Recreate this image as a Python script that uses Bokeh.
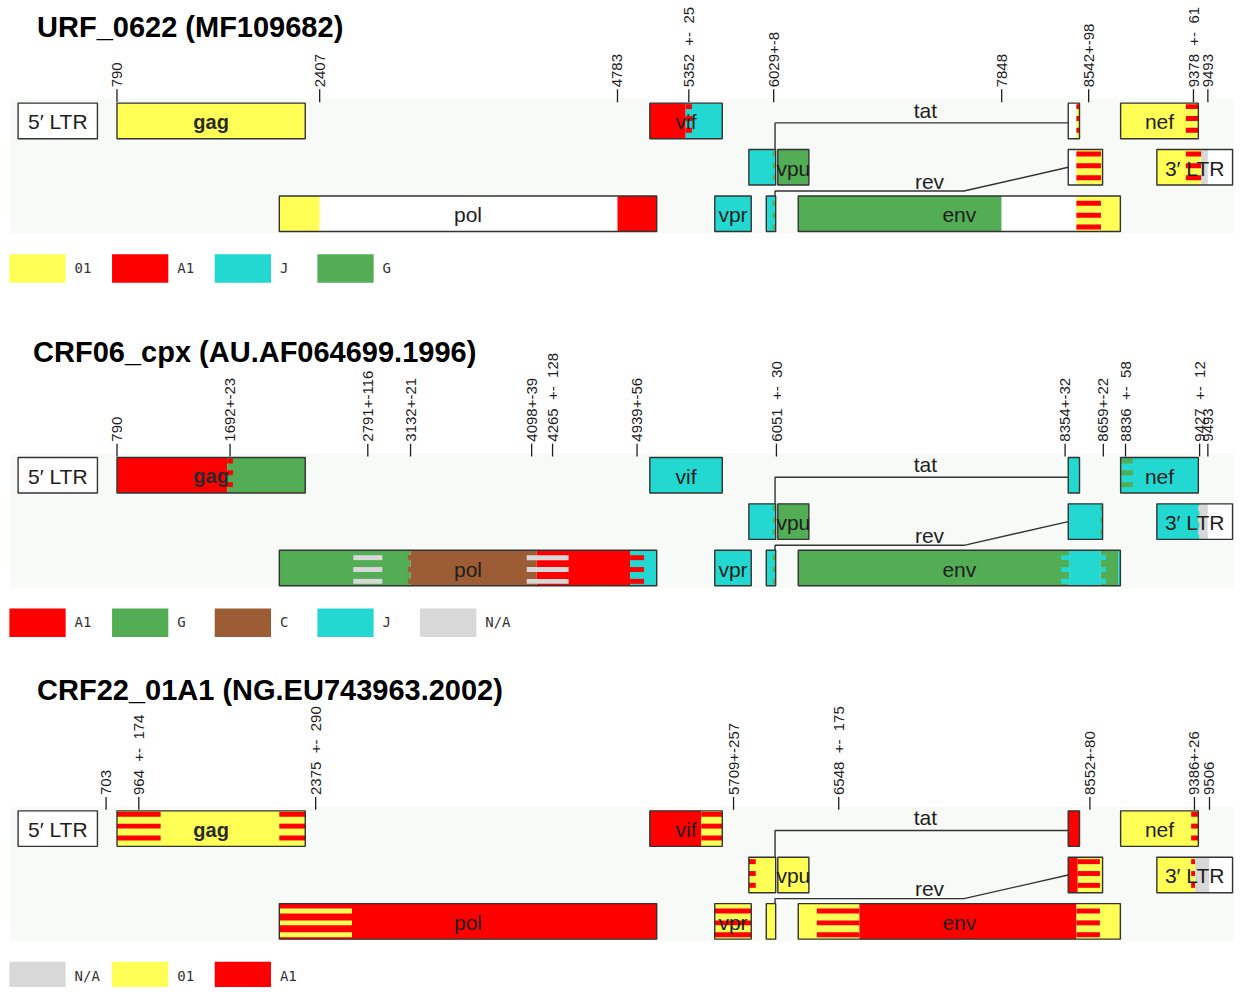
import math
from bokeh.plotting import figure
from bokeh.models import Range1d
from bokeh.embed import file_html
from bokeh.resources import INLINE
from bokeh.core.properties import value

# ---------------- data ----------------
PALETTE = {"01": "#ffff55", "A1": "#ff0000", "J": "#22d8d0", "G": "#52ad55",
           "C": "#9c5c34", "N/A": "#d8d8d8", "-": "#ffffff"}

gene_names = ["5LTR", "gag", "pol", "vif", "vpr", "tat1", "rev1", "vpu", "env", "tat2", "rev2", "nef", "3LTR"]
gene_start = [1, 790, 2085, 5041, 5559, 5831, 5970, 6062, 6225, 8379, 8379, 8797, 9086]
gene_end = [634, 2292, 5096, 5619, 5850, 6045, 6045, 6310, 8795, 8469, 8653, 9417, 9690]
gene_row = [0, 0, 2, 0, 2, 1, 2, 1, 2, 0, 1, 0, 1]
gene_label = ["5\u2032 LTR", "gag", "pol", "vif", "vpr", "", "", "vpu", "env", "", "", "nef", "3\u2032 LTR"]

titles = ["URF_0622 (MF109682)", "CRF06_cpx (AU.AF064699.1996)", "CRF22_01A1 (NG.EU743963.2002)"]

SP = "\u00a0\u00a0"   # wide gap as printed in the labels
p1_tick_pos = [790, 2407, 4783, 5352, 6029, 7848, 8542, 9378, 9493]
p1_tick_lab = ["790", "2407", "4783", "5352" + SP + "+-" + SP + "25", "6029+-8", "7848", "8542+-98",
               "9378" + SP + "+-" + SP + "61", "9493"]
p1_legend = ["01", "A1", "J", "G"]
p1_segments = [
    ("5LTR", 1, 634, "-"),
    ("gag", 790, 2292, "01"),
    ("pol", 2085, 2407, "01"), ("pol", 2407, 4783, "-"), ("pol", 4783, 5096, "A1"),
    ("vif", 5041, 5327, "A1"), ("vif", 5327, 5619, "J"),
    ("vpr", 5559, 5850, "J"),
    ("tat1", 5831, 6045, "J"),
    ("rev1", 5970, 6045, "J"),
    ("vpu", 6062, 6310, "G"),
    ("env", 6225, 7848, "G"), ("env", 7848, 8444, "-"), ("env", 8444, 8795, "01"),
    ("tat2", 8379, 8444, "-"), ("tat2", 8444, 8469, "01"),
    ("rev2", 8379, 8444, "-"), ("rev2", 8444, 8653, "01"),
    ("nef", 8797, 9417, "01"),
    ("3LTR", 9086, 9439, "01"), ("3LTR", 9439, 9493, "N/A"), ("3LTR", 9493, 9690, "-"),
]
p1_stripes = [
    ("vif", 5327, 5377, "A1"), ("tat1", 6021, 6045, "G"), ("rev1", 6021, 6045, "G"),
    ("env", 8444, 8640, "A1"), ("tat2", 8444, 8469, "A1"), ("rev2", 8444, 8640, "A1"),
    ("nef", 9317, 9417, "A1"), ("3LTR", 9317, 9439, "A1"),
]

p2_tick_pos = [790, 1692, 2791, 3132, 4098, 4265, 4939, 6051, 8354, 8659, 8836, 9427, 9493]
p2_tick_lab = ["790", "1692+-23", "2791+-116", "3132+-21", "4098+-39", "4265" + SP + "+-" + SP + "128",
               "4939+-56", "6051" + SP + "+-" + SP + "30", "8354+-32", "8659+-22",
               "8836" + SP + "+-" + SP + "58", "9427" + SP + "+-" + SP + "12", "9493"]
p2_legend = ["A1", "G", "C", "J", "N/A"]
p2_segments = [
    ("5LTR", 1, 634, "-"),
    ("gag", 790, 1669, "A1"), ("gag", 1669, 2292, "G"),
    ("pol", 2085, 3132, "G"), ("pol", 3132, 4137, "C"), ("pol", 4137, 4883, "A1"), ("pol", 4883, 5096, "J"),
    ("vif", 5041, 5619, "J"),
    ("vpr", 5559, 5850, "J"),
    ("tat1", 5831, 6045, "J"),
    ("rev1", 5970, 6045, "J"),
    ("vpu", 6062, 6310, "G"),
    ("env", 6225, 8386, "G"), ("env", 8386, 8637, "J"), ("env", 8637, 8778, "G"), ("env", 8778, 8795, "J"),
    ("tat2", 8379, 8469, "J"),
    ("rev2", 8379, 8653, "J"),
    ("nef", 8797, 9417, "J"),
    ("3LTR", 9086, 9427, "J"), ("3LTR", 9427, 9493, "N/A"), ("3LTR", 9493, 9690, "-"),
]
p2_stripes = [
    ("gag", 1669, 1715, "A1"),
    ("pol", 2675, 2907, "N/A"), ("pol", 3111, 3153, "C"), ("pol", 4059, 4393, "N/A"), ("pol", 4883, 4995, "A1"),
    ("tat1", 6021, 6045, "G"), ("rev1", 6021, 6045, "G"),
    ("env", 8322, 8386, "J"), ("env", 8637, 8681, "J"),
    ("rev2", 8637, 8653, "G"),
    ("nef", 8797, 8894, "G"),
    ("3LTR", 9415, 9439, "N/A"),
]

p3_tick_pos = [703, 964, 2375, 5709, 6548, 8552, 9386, 9506]
p3_tick_lab = ["703", "964" + SP + "+-" + SP + "174", "2375" + SP + "+-" + SP + "290", "5709+-257",
               "6548" + SP + "+-" + SP + "175", "8552+-80", "9386+-26", "9506"]
p3_legend = ["N/A", "01", "A1"]
p3_segments = [
    ("5LTR", 1, 634, "-"),
    ("gag", 790, 2292, "01"),
    ("pol", 2085, 5096, "A1"),
    ("vif", 5041, 5452, "A1"), ("vif", 5452, 5619, "01"),
    ("vpr", 5559, 5850, "01"),
    ("tat1", 5831, 6045, "01"),
    ("rev1", 5970, 6045, "01"),
    ("vpu", 6062, 6310, "01"),
    ("env", 6225, 6713, "01"), ("env", 6713, 8445, "A1"), ("env", 8445, 8795, "01"),
    ("tat2", 8379, 8469, "A1"),
    ("rev2", 8379, 8455, "A1"), ("rev2", 8455, 8653, "01"),
    ("nef", 8797, 9417, "01"),
    ("3LTR", 9086, 9390, "01"), ("3LTR", 9390, 9506, "N/A"), ("3LTR", 9506, 9690, "-"),
]
p3_stripes = [
    ("gag", 790, 1138, "A1"), ("gag", 2085, 2292, "A1"),
    ("pol", 2085, 2665, "01"),
    ("vif", 5452, 5619, "A1"),
    ("vpr", 5559, 5850, "A1"),
    ("tat1", 5831, 5886, "A1"),
    ("env", 6373, 6713, "A1"), ("env", 8445, 8632, "A1"),
    ("rev2", 8455, 8632, "A1"),
    ("nef", 9360, 9417, "A1"),
    ("3LTR", 9360, 9390, "A1"),
]

# ---------------- layout ----------------
VX0, VX1, VY0, VY1 = 0, 1250, 0, 1000          # visible window of the reference, in its pixels
PX0, POS0, SCALE = 118.0, 790.0, 0.12697       # pixel of position 790, px per base
ROW_TOPS = [104, 463, 821]
TITLE_Y = [27, 356, 699]
TITLE_X = [37, 33, 37]
LEGEND_Y = [257, 616, 974]
ROW_OFF = [0, 47, 94]
ROW_H = 36
STRIPE_PHASE = [1, 2, 5]
OUTLINE = "#333333"
TXT = "#1e1e1e"
SANS = value("Liberation Sans")
MONO = value("DejaVu Sans Mono")

p = figure(width=1234, height=987,
           x_range=Range1d(POS0 + (VX0 - PX0) / SCALE, POS0 + (VX1 - PX0) / SCALE),
           y_range=Range1d(VY1, VY0),
           output_backend="svg", toolbar_location=None,
           x_axis_location=None, y_axis_location=None, min_border=0)
p.extra_x_ranges = {"px": Range1d(VX0, VX1)}
p.grid.visible = False
p.outline_line_color = None
p.background_fill_color = "white"

gidx = {n: i for i, n in enumerate(gene_names)}

panels = [
    (p1_tick_pos, p1_tick_lab, p1_legend, p1_segments, p1_stripes),
    (p2_tick_pos, p2_tick_lab, p2_legend, p2_segments, p2_stripes),
    (p3_tick_pos, p3_tick_lab, p3_legend, p3_segments, p3_stripes),
]

for k, (tpos, tlab, legend, segs, stripes) in enumerate(panels):
    R = ROW_TOPS[k]
    # light band
    p.quad(left=[10], right=[VX1], top=[R - 4], bottom=[R + ROW_OFF[2] + ROW_H + 2],
           fill_color="#f7faf7", line_color=None, x_range_name="px")
    # base colour segments
    L, Rt, T, B, C = [], [], [], [], []
    for g, s, e, sub in segs:
        row = gene_row[gidx[g]]
        L.append(s); Rt.append(e); T.append(R + ROW_OFF[row]); B.append(R + ROW_OFF[row] + ROW_H)
        C.append(PALETTE[sub])
    p.quad(left=L, right=Rt, top=T, bottom=B, fill_color=C, line_color=None)
    # uncertain-breakpoint stripes
    L, Rt, T, B, C = [], [], [], [], []
    for g, s, e, sub in stripes:
        row = gene_row[gidx[g]]
        y0 = R + ROW_OFF[row] + STRIPE_PHASE[row]
        for j in range(3):
            L.append(s); Rt.append(e); T.append(y0 + 12 * j); B.append(y0 + 12 * j + 5)
            C.append(PALETTE[sub])
    p.quad(left=L, right=Rt, top=T, bottom=B, fill_color=C, line_color=None)
    # gene outlines
    gt = [R + ROW_OFF[r] for r in gene_row]
    gb = [R + ROW_OFF[r] + ROW_H for r in gene_row]
    p.quad(left=gene_start, right=gene_end, top=gt, bottom=gb,
           fill_color=None, line_color=OUTLINE, line_width=1.4)
    # splice connectors for tat and rev
    knee = gene_end[gidx["tat1"]] - 5
    p.line(x=[knee, knee, gene_start[gidx["tat2"]]], y=[R + ROW_OFF[1], R + 20, R + 20],
           line_color=OUTLINE, line_width=1.4)
    p.line(x=[knee, knee, 7547, gene_start[gidx["rev2"]]],
           y=[R + ROW_OFF[2], R + ROW_OFF[2] - 5, R + ROW_OFF[2] - 5, R + ROW_OFF[1] + 18],
           line_color=OUTLINE, line_width=1.4)
    p.text(x=[7240], y=[R + 7], text=["tat"], text_font=SANS, text_font_size="21px",
           text_color=TXT, text_align="center", text_baseline="middle")
    p.text(x=[7272], y=[R + 79], text=["rev"], text_font=SANS, text_font_size="21px",
           text_color=TXT, text_align="center", text_baseline="middle")
    # gene labels
    lx, ly, lt = [], [], []
    for i, lab in enumerate(gene_label):
        if lab and lab != "gag":
            lx.append((gene_start[i] + gene_end[i]) / 2)
            ly.append(R + ROW_OFF[gene_row[i]] + ROW_H / 2 + 1)
            lt.append(lab)
    p.text(x=lx, y=ly, text=lt, text_font=SANS, text_font_size="21px",
           text_color=TXT, text_align="center", text_baseline="middle")
    gi = gidx["gag"]
    p.text(x=[(gene_start[gi] + gene_end[gi]) / 2], y=[R + ROW_H / 2 + 1], text=["gag"],
           text_font=SANS, text_font_style="bold", text_font_size="20px",
           text_color="#2a2a2a", text_align="center", text_baseline="middle")
    # breakpoint ticks
    p.segment(x0=tpos, x1=tpos, y0=[R - 1] * len(tpos), y1=[R - 14] * len(tpos),
              line_color=TXT, line_width=1.3)
    p.text(x=tpos, y=[R - 16] * len(tpos), text=tlab, angle=math.pi / 2,
           text_font=SANS, text_font_size="15px", text_color=TXT,
           text_align="left", text_baseline="middle")
    # title
    p.text(x=[TITLE_X[k]], y=[TITLE_Y[k]], text=[titles[k]], x_range_name="px",
           text_font=SANS, text_font_style="bold", text_font_size="29px",
           text_color="black", text_align="left", text_baseline="middle")
    # legend
    ly0 = LEGEND_Y[k]
    n = len(legend)
    sl = [9 + 104 * i for i in range(n)]
    p.quad(left=sl, right=[x + 57 for x in sl], top=[ly0] * n, bottom=[ly0 + 29] * n,
           fill_color=[PALETTE[s] for s in legend], line_color=None, x_range_name="px")
    p.text(x=[x + 66 for x in sl], y=[ly0 + 14] * n, text=legend, x_range_name="px",
           text_font=MONO, text_font_size="14px", text_color="#333333",
           text_align="left", text_baseline="middle")

open("out.html", "w").write(file_html(p, INLINE))
